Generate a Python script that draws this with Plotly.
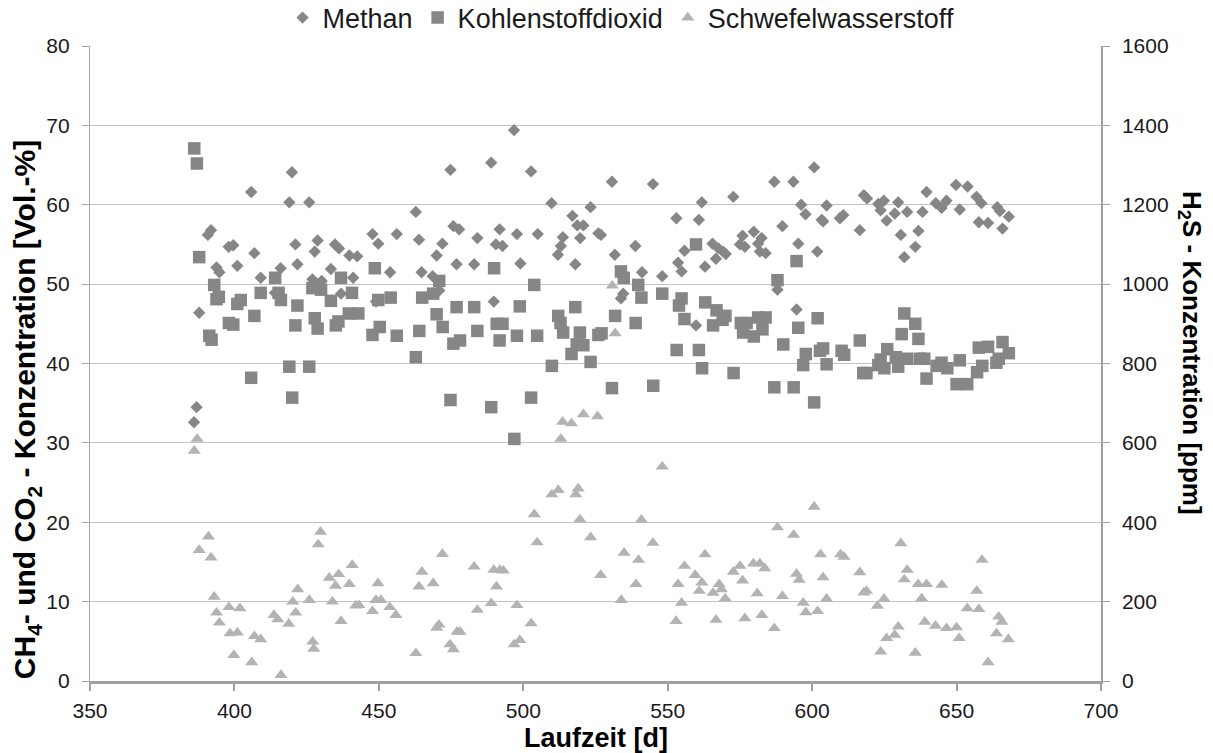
import plotly.graph_objects as go

# ---------------- data ----------------
methan_x = [386.0, 386.9, 387.8, 390.8, 391.9, 393.8, 394.8, 398.0, 399.6, 401.0,
            405.8, 406.9, 409.1, 414.0, 416.0, 419.0, 419.9, 421.1, 421.8, 425.9,
            427.0, 427.8, 428.8, 430.2, 433.4, 434.8, 436.2, 436.9, 439.8, 441.1,
            442.5, 447.8, 449.0, 449.8, 453.9, 456.2, 462.8, 463.9, 464.8, 468.6,
            470.0, 470.9, 472.0, 474.8, 475.8, 476.9, 477.8, 483.0, 484.1, 488.9,
            489.8, 490.5, 491.8, 492.8, 496.8, 497.8, 499.0, 502.7, 505.0, 509.8,
            512.0, 513.0, 513.7, 517.0, 518.0, 518.7, 519.7, 520.8, 523.3, 526.0,
            526.9, 530.7, 531.7, 533.8, 534.6, 538.8, 541.1, 544.9, 548.1, 553.0,
            553.6, 554.8, 555.8, 559.8, 560.8, 561.8, 562.9, 565.5, 566.7, 567.6,
            569.2, 570.1, 572.7, 575.0, 575.9, 576.7, 579.8, 581.3, 581.9, 582.5,
            583.9, 586.9, 588.0, 589.7, 593.5, 594.6, 595.2, 596.2, 597.7, 600.7,
            601.8, 603.3, 603.8, 605.0, 609.6, 610.8, 616.5, 617.9, 619.0, 622.9,
            623.7, 624.8, 625.8, 628.6, 629.8, 630.7, 631.9, 632.9, 635.7, 636.8,
            638.2, 639.6, 642.8, 644.8, 646.5, 649.8, 651.1, 653.8, 656.9, 657.7,
            658.6, 660.9, 664.1, 665.0, 665.9, 668.1]
methan_y = [32.6, 34.5, 46.4, 56.2, 56.8, 52.1, 51.5, 54.7, 54.9, 52.3,
            61.6, 53.9, 50.8, 48.9, 52.0, 60.3, 64.1, 55.0, 52.5, 60.3,
            50.6, 54.1, 55.5, 50.4, 51.9, 55.0, 54.5, 48.8, 53.6, 50.8,
            53.5, 56.3, 47.8, 55.1, 51.5, 56.3, 59.1, 55.6, 51.5, 51.0,
            53.6, 49.2, 55.1, 64.4, 57.3, 52.5, 56.9, 52.5, 55.8, 65.3,
            47.8, 55.0, 56.9, 54.8, 69.4, 56.3, 52.6, 64.2, 56.3, 60.2,
            53.7, 54.8, 55.9, 58.6, 52.5, 57.4, 55.8, 57.4, 59.7, 56.4,
            56.2, 62.9, 53.7, 48.2, 48.8, 54.8, 51.5, 62.6, 51.0, 58.3,
            52.7, 51.6, 54.2, 44.8, 58.1, 60.3, 52.2, 55.1, 53.2, 54.5,
            54.1, 53.8, 61.0, 55.0, 56.1, 54.7, 56.6, 55.1, 54.1, 55.8,
            53.9, 62.9, 49.3, 57.3, 62.9, 46.8, 55.1, 60.0, 58.8, 64.7,
            54.1, 58.1, 57.9, 59.9, 58.3, 58.7, 56.8, 61.2, 60.8, 60.1,
            59.3, 60.5, 58.0, 58.9, 60.3, 56.2, 53.4, 59.1, 54.7, 56.7,
            59.1, 61.6, 60.2, 59.6, 60.5, 62.5, 59.4, 62.3, 61.0, 57.8,
            60.2, 57.7, 59.7, 59.2, 57.0, 58.5]

co2_x = [386.1, 387.0, 387.8, 391.3, 392.1, 393.0, 393.8, 394.6, 398.1, 399.6,
         401.0, 402.2, 405.8, 406.9, 409.1, 414.1, 415.3, 416.1, 419.0, 420.0,
         421.1, 421.8, 425.9, 427.0, 427.8, 428.8, 430.0, 433.4, 435.1, 436.0,
         436.9, 439.6, 440.7, 442.9, 447.8, 448.6, 449.8, 450.3, 454.1, 456.2,
         462.8, 464.0, 465.0, 468.8, 470.0, 470.9, 472.1, 474.8, 475.8, 476.9,
         478.1, 483.0, 484.1, 488.9, 489.9, 490.8, 491.8, 492.8, 496.9, 497.8,
         498.8, 502.7, 503.8, 504.8, 509.9, 512.1, 512.9, 513.8, 516.7, 518.0,
         518.5, 519.6, 520.8, 523.3, 526.0, 527.1, 530.7, 531.8, 533.8, 534.8,
         538.9, 539.8, 540.9, 545.0, 548.1, 553.1, 553.9, 554.8, 555.8, 559.8,
         560.8, 561.9, 563.0, 565.7, 566.9, 569.0, 570.0, 572.8, 575.3, 576.1,
         577.3, 579.8, 581.3, 582.8, 583.9, 586.9, 588.0, 590.0, 593.6, 594.6,
         595.2, 596.9, 597.8, 600.7, 601.9, 602.7, 603.8, 605.0, 610.2, 611.1,
         616.5, 617.7, 618.8, 622.9, 623.7, 625.0, 626.0, 629.0, 629.8, 631.0,
         631.9, 632.9, 635.7, 636.8, 637.3, 638.8, 639.6, 643.1, 644.8, 646.8,
         650.0, 651.1, 653.7, 657.1, 657.7, 658.9, 660.9, 663.8, 664.6, 665.9,
         668.1]
co2_y = [67.1, 65.2, 53.4, 43.5, 43.0, 49.9, 48.1, 48.4, 45.1, 44.9,
         47.5, 48.0, 38.2, 46.0, 48.9, 50.8, 48.9, 48.0, 39.6, 35.7,
         44.8, 47.3, 39.6, 49.5, 45.7, 44.4, 49.3, 47.9, 44.8, 45.3,
         50.8, 46.3, 48.9, 46.3, 43.6, 52.0, 48.0, 44.6, 48.3, 43.5,
         40.8, 44.1, 48.3, 48.8, 46.2, 50.4, 44.6, 35.4, 42.5, 47.1,
         42.9, 47.1, 44.1, 34.5, 52.0, 45.0, 42.9, 45.0, 30.5, 43.5,
         47.2, 35.7, 49.9, 43.5, 39.7, 46.0, 45.1, 43.9, 41.2, 47.1,
         42.4, 43.9, 42.3, 40.2, 43.6, 43.8, 36.9, 46.0, 51.6, 50.8,
         45.1, 49.9, 48.3, 37.2, 48.8, 41.7, 47.3, 48.2, 45.6, 55.0,
         41.7, 39.4, 47.7, 44.8, 46.7, 45.5, 46.0, 38.8, 45.1, 43.9,
         45.1, 43.4, 45.8, 44.3, 45.8, 37.0, 50.5, 42.4, 37.0, 52.9,
         44.5, 39.8, 41.2, 35.1, 45.7, 41.6, 41.9, 39.9, 41.6, 41.1,
         42.9, 38.8, 38.8, 39.8, 40.5, 39.4, 41.8, 40.8, 39.6, 43.7,
         46.3, 40.6, 45.0, 43.1, 40.6, 40.6, 38.1, 39.7, 40.1, 39.4,
         37.4, 40.4, 37.4, 38.9, 42.0, 39.7, 42.1, 40.1, 40.6, 42.7,
         41.3]

h2s_x = [386.1, 387.1, 387.8, 391.0, 391.9, 393.0, 393.8, 394.8, 398.1, 398.5,
         399.8, 401.0, 401.9, 406.0, 406.9, 409.1, 413.7, 415.0, 416.1, 418.8,
         420.2, 421.2, 421.9, 425.9, 427.1, 427.5, 429.0, 429.8, 432.8, 433.9,
         435.0, 436.1, 436.9, 439.8, 440.8, 442.0, 443.1, 447.8, 449.0, 449.7,
         450.7, 453.8, 455.9, 462.8, 463.9, 464.9, 468.8, 470.0, 470.8, 472.0,
         474.6, 475.8, 477.1, 478.1, 483.0, 484.1, 488.9, 489.8, 490.7, 491.9,
         493.1, 496.8, 497.8, 498.8, 502.7, 503.8, 504.8, 509.9, 512.1, 513.0,
         513.6, 516.7, 518.2, 519.0, 519.6, 520.8, 523.3, 525.7, 526.8, 530.8,
         531.8, 533.9, 534.9, 539.0, 539.9, 540.9, 544.9, 548.1, 552.9, 553.6,
         554.8, 555.8, 559.5, 560.9, 561.8, 562.9, 565.7, 566.7, 567.8, 568.6,
         569.9, 572.7, 575.0, 575.9, 576.7, 579.7, 581.0, 581.9, 582.6, 583.6,
         586.9, 588.0, 589.7, 593.6, 594.6, 595.5, 596.9, 597.8, 600.7, 601.9,
         602.9, 603.8, 605.0, 609.8, 611.0, 616.5, 617.9, 618.8, 622.6, 623.7,
         624.9, 625.8, 628.6, 629.8, 630.7, 631.9, 632.9, 635.7, 636.7, 637.9,
         639.0, 639.6, 642.7, 644.9, 646.5, 650.0, 650.9, 653.7, 657.0, 657.7,
         658.8, 660.9, 663.8, 664.6, 665.7, 667.9]
h2s_ppm = [580, 610, 330, 364, 311, 212, 172, 147, 186, 120,
           65, 122, 183, 47, 113, 105, 166, 155, 15, 144,
           200, 172, 231, 204, 99, 81, 344, 376, 260, 200,
           240, 269, 151, 244, 292, 190, 191, 176, 204, 246,
           204, 186, 166, 70, 238, 275, 246, 134, 142, 320,
           92, 80, 124, 124, 288, 179, 196, 280, 238, 280,
           278, 92, 191, 103, 145, 420, 349, 470, 481, 610,
           653, 649, 470, 485, 407, 672, 362, 667, 267, 996,
           876, 204, 323, 244, 305, 406, 348, 540, 151, 244,
           197, 290, 267, 227, 248, 319, 222, 154, 244, 231,
           208, 275, 290, 253, 158, 296, 221, 296, 166, 284,
           133, 387, 214, 368, 270, 255, 197, 173, 439, 176,
           319, 261, 207, 319, 313, 274, 223, 227, 189, 74,
           207, 108, 116, 137, 347, 256, 280, 71, 244, 208,
           149, 244, 139, 242, 133, 135, 108, 183, 227, 181,
           305, 47, 120, 162, 149, 105]

series_names = ["Methan", "Kohlenstoffdioxid", "Schwefelwasserstoff"]
x_ticks = [350, 400, 450, 500, 550, 600, 650, 700]
y_left_ticks = [0, 10, 20, 30, 40, 50, 60, 70, 80]
y_right_ticks = [0, 200, 400, 600, 800, 1000, 1200, 1400, 1600]

# ---------------- figure ----------------
FONT = "Arial, 'Liberation Sans', sans-serif"
DARK = "#868686"
LIGHT = "#b3b3b3"

fig = go.Figure()
fig.add_trace(go.Scatter(x=methan_x, y=methan_y, name=series_names[0], mode="markers",
                         marker=dict(symbol="diamond", size=9.5, color=DARK, line=dict(width=0))))
fig.add_trace(go.Scatter(x=co2_x, y=co2_y, name=series_names[1], mode="markers",
                         marker=dict(symbol="square", size=12.5, color=DARK, line=dict(width=0))))
fig.add_trace(go.Scatter(x=h2s_x, y=h2s_ppm, name=series_names[2], mode="markers", yaxis="y2",
                         marker=dict(symbol="triangle-up", size=11.5, color=LIGHT, line=dict(width=0))))

tickfont = dict(family=FONT, size=21, color="#1a1a1a")

fig.update_layout(
    width=1213, height=753,
    margin=dict(l=90, r=112, t=46, b=72, autoexpand=False),
    paper_bgcolor="white", plot_bgcolor="white",
    font=dict(family=FONT, color="#1a1a1a"),
    showlegend=True,
    legend=dict(orientation="h", xref="container", yref="container",
                x=0.512, xanchor="center", y=0.976, yanchor="middle",
                font=dict(family=FONT, size=27, color="#1a1a1a"),
                bgcolor="rgba(0,0,0,0)", itemwidth=30, tracegroupgap=0),
    xaxis=dict(range=[350, 700], tickvals=x_ticks, ticktext=[str(v) for v in x_ticks],
               showgrid=False, zeroline=False, showline=True, linecolor="#a0a0a0", linewidth=2.5,
               ticks="outside", ticklen=7, tickcolor="#a0a0a0", tickwidth=1.5,
               tickfont=tickfont, ticklabelstandoff=2),
    yaxis=dict(range=[0, 80], tickvals=y_left_ticks, ticktext=[str(v) for v in y_left_ticks],
               showgrid=True, gridcolor="#c3c3c3", gridwidth=1.2, zeroline=False,
               showline=True, linecolor="#a6a6a6", linewidth=1.2,
               ticks="outside", ticklen=7, tickcolor="#a6a6a6",
               tickfont=tickfont, ticklabelstandoff=8),
    yaxis2=dict(range=[0, 1600], tickvals=y_right_ticks, ticktext=[str(v) for v in y_right_ticks],
                overlaying="y", side="right", showgrid=False, zeroline=False,
                showline=True, linecolor="#a0a0a0", linewidth=1.5,
                ticks="outside", ticklen=7, tickcolor="#a0a0a0",
                tickfont=tickfont, ticklabelstandoff=8),
    annotations=[
        dict(text="<b>Laufzeit [d]</b>", xref="paper", yref="paper", x=0.5, y=-0.09,
             xanchor="center", yanchor="middle", showarrow=False,
             font=dict(family=FONT, size=27, color="#000000")),
        dict(text="<b>CH<sub>4</sub>- und CO<sub>2</sub> - Konzentration [Vol.-%]</b>",
             xref="paper", yref="paper", x=-0.062, y=0.427, xanchor="center", yanchor="middle",
             textangle=-90, showarrow=False, font=dict(family=FONT, size=30, color="#000000")),
        dict(text="<b>H<sub>2</sub>S - Konzentration [ppm]</b>",
             xref="paper", yref="paper", x=1.089, y=0.5165, xanchor="center", yanchor="middle",
             textangle=90, showarrow=False, font=dict(family=FONT, size=26, color="#000000")),
    ],
)

fig.write_html("out.html", config={"displayModeBar": False},
               post_script="document.body.style.margin='0';document.body.style.overflow='hidden';")
